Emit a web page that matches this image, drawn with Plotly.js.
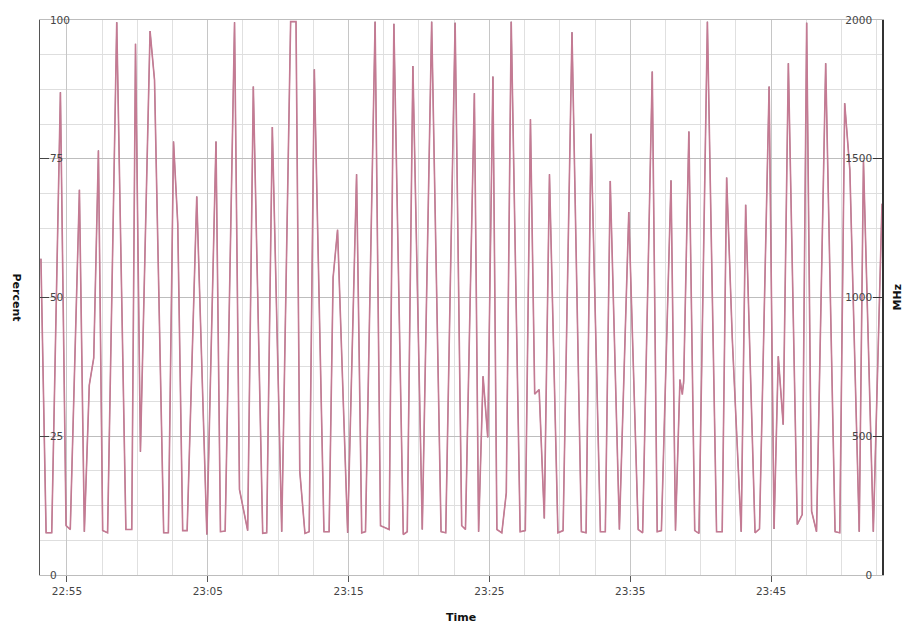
<!DOCTYPE html>
<html>
<head>
<meta charset="utf-8">
<script src="https://cdn.plot.ly/plotly-3.0.1.min.js"></script>
<style>html,body{margin:0;padding:0;background:#fff;}#chart{width:906px;height:624px;}</style>
</head>
<body>
<div id="chart"></div>
<script>
var day = '2013-01-01 ';
var times = [
'22:53:09','22:53:31','22:53:55','22:54:32','22:54:56','22:55:14','22:55:53','22:56:14','22:56:35','22:56:54',
'22:57:14','22:57:32','22:57:53','22:58:32','22:59:11','22:59:36','22:59:52','23:00:13','23:00:54','23:01:13',
'23:01:52','23:02:12','23:02:34','23:02:52','23:03:13','23:03:32','23:04:13','23:04:56','23:05:35','23:05:54',
'23:06:14','23:06:54','23:07:15','23:07:50','23:08:14','23:08:54','23:09:11','23:09:35','23:10:15','23:10:53',
'23:11:16','23:11:32','23:11:54','23:12:12','23:12:34','23:13:15','23:13:37','23:13:54','23:14:13','23:14:56',
'23:15:34','23:15:56','23:16:12','23:16:53','23:17:16','23:17:53','23:18:13','23:18:53','23:19:10','23:19:34',
'23:20:14','23:20:54','23:21:34','23:21:54','23:22:34','23:23:02','23:23:18','23:23:56','23:24:14','23:24:33',
'23:24:53','23:25:15','23:25:32','23:25:53','23:26:12','23:26:33','23:27:11','23:27:33','23:27:55','23:28:13',
'23:28:32','23:28:54','23:29:16','23:29:52','23:30:14','23:30:52','23:31:32','23:31:52','23:32:13','23:32:53',
'23:33:14','23:33:35','23:34:14','23:34:54','23:35:34','23:35:53','23:36:34','23:36:55','23:37:13','23:37:54',
'23:38:13','23:38:32','23:38:42','23:38:48','23:39:10','23:39:35','23:39:53','23:40:29','23:41:08','23:41:32',
'23:41:51','23:42:15','23:42:53','23:43:12','23:43:52','23:44:11','23:44:52','23:45:13','23:45:31','23:45:52',
'23:46:14','23:46:52','23:47:13','23:47:32','23:47:53','23:48:14','23:48:53','23:49:33','23:49:53','23:50:14',
'23:50:36','23:51:16','23:51:34','23:52:16','23:52:53'
];
var percent = [
57,7.6,7.6,87,8.9,8.2,69.4,7.8,34.2,39.1,
76.5,8.0,7.6,99.6,8.2,8.2,95.7,22.2,98.0,89.2,
7.6,7.6,78.1,63.3,8.0,8.0,68.2,7.3,78.1,7.8,
7.9,99.6,15.4,8.0,88.0,7.5,7.6,80.7,7.8,99.7,
99.7,18.7,7.5,7.8,91.1,7.8,7.8,53.6,62.2,7.6,
72.2,7.6,7.8,99.7,8.9,8.2,99.3,7.3,7.8,91.7,
8.2,99.7,7.8,7.6,99.5,8.9,8.2,86.8,7.8,35.8,
24.8,89.8,8.2,7.6,14.8,99.7,7.8,8.0,82.1,32.6,
33.4,10.2,72.2,7.6,8.0,97.8,7.8,7.6,79.5,7.8,
7.8,71.0,8.2,65.4,8.2,7.6,90.7,7.8,8.0,71.1,
8.0,35.2,33.0,34.5,79.9,8.0,7.5,99.7,7.8,7.8,
71.6,42.6,7.8,66.7,7.6,8.3,88.0,8.3,39.4,27.1,
92.2,9.1,10.9,99.5,11.5,7.8,92.2,7.8,7.6,85.0,
73,7.8,74.7,7.8,66.9
];
var mhz = [
1140,152,152,1740,178,164,1388,156,684,782,
1530,160,152,1992,164,164,1914,444,1960,1784,
152,152,1562,1266,160,160,1364,146,1562,156,
158,1992,308,160,1760,150,152,1614,156,1994,
1994,374,150,156,1822,156,156,1072,1244,152,
1444,152,156,1994,178,164,1986,146,156,1834,
164,1994,156,152,1990,178,164,1736,156,716,
496,1796,164,152,296,1994,156,160,1642,652,
668,204,1444,152,160,1956,156,152,1590,156,
156,1420,164,1308,164,152,1814,156,160,1422,
160,704,650,700,1598,160,150,1994,156,156,
1432,852,156,1334,152,166,1760,166,788,542,
1844,182,218,1990,230,156,1844,156,152,1700,
1460,156,1494,156,1338
];
var yTicksLeft = [0,25,50,75,100];
var yTicksRight = [0,500,1000,1500,2000];

var x = times.map(function(t){ return day + t; });
var tickFont = {family:'DejaVu Sans, Verdana, sans-serif', size:10.5, color:'#444'};
var titleFont = {family:'DejaVu Sans, Verdana, sans-serif', size:11, color:'#111', weight:'bold'};

var traces = [
  {x:x, y:mhz, yaxis:'y2', type:'scatter', mode:'lines', name:'MHz',
   line:{color:'#c47a93', width:1.6}, hoverinfo:'skip'},
  {x:x, y:percent, yaxis:'y', type:'scatter', mode:'lines', name:'Percent',
   line:{color:'rgba(112,98,106,0.8)', width:0.9}, hoverinfo:'skip'}
];

var layout = {
  width:906, height:624,
  margin:{l:40, r:24, t:20, b:49, pad:0},
  paper_bgcolor:'#ffffff', plot_bgcolor:'#ffffff',
  showlegend:false,
  xaxis:{
    type:'date',
    range:[day+'22:53:05', day+'23:52:53'],
    tick0:day+'22:55:00', dtick:600000, tickformat:'%H:%M',
    ticks:'outside', ticklen:6, tickcolor:'#555', tickwidth:1,
    showline:true, linecolor:'#bdbdbd', linewidth:1, mirror:true,
    showgrid:true, gridcolor:'#c6c6c6', gridwidth:1,
    minor:{tick0:day+'22:55:00', dtick:150000, showgrid:true, gridcolor:'#e0e0e0', gridwidth:1, ticks:''},
    tickfont:tickFont, zeroline:false, fixedrange:true
  },
  yaxis:{
    range:[0,100], tickvals:yTicksLeft, ticktext:yTicksLeft.map(String),
    ticks:'inside', ticklen:9, tickcolor:'#444', tickwidth:1,
    ticklabelposition:'inside', ticklabeloverflow:'allow',
    showline:true, linecolor:'#555', linewidth:1.5,
    showgrid:true, gridcolor:'#bdbdbd', gridwidth:1,
    minor:{dtick:6.25, showgrid:true, gridcolor:'#dedede', gridwidth:1, ticks:''},
    tickfont:tickFont, zeroline:false, fixedrange:true
  },
  yaxis2:{
    range:[0,2000], tickvals:yTicksRight, ticktext:yTicksRight.map(String),
    overlaying:'y', side:'right',
    ticks:'inside', ticklen:9, tickcolor:'#333', tickwidth:1,
    ticklabelposition:'inside', ticklabeloverflow:'allow',
    showline:true, linecolor:'#333', linewidth:1.5,
    showgrid:false, zeroline:false,
    tickfont:tickFont, fixedrange:true
  },
  annotations:[
    {text:'Percent', xref:'paper', yref:'paper', x:0, y:0.5, xshift:-24, textangle:90,
     showarrow:false, xanchor:'center', yanchor:'middle', font:titleFont},
    {text:'MHz', xref:'paper', yref:'paper', x:1, y:0.5, xshift:15, textangle:-90,
     showarrow:false, xanchor:'center', yanchor:'middle', font:titleFont},
    {text:'Time', xref:'paper', yref:'paper', x:0.5, y:0, yshift:-42,
     showarrow:false, xanchor:'center', yanchor:'middle', font:titleFont}
  ]
};

Plotly.newPlot('chart', traces, layout, {staticPlot:true, displayModeBar:false});
</script>
</body>
</html>
